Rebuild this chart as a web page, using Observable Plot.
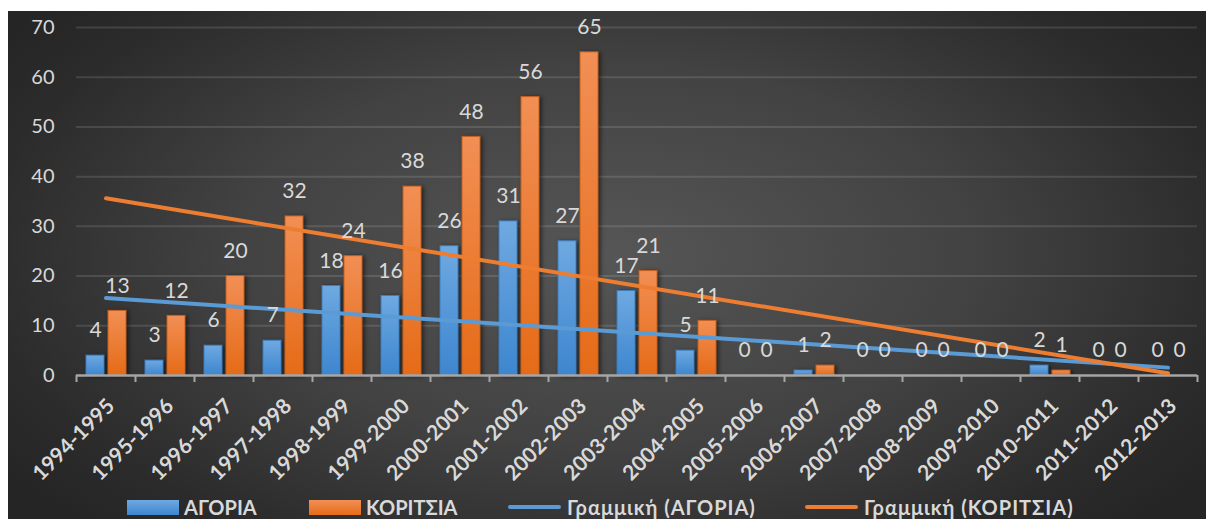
<!DOCTYPE html>
<html>
<head>
<meta charset="utf-8">
<script src="https://cdn.jsdelivr.net/npm/d3@7"></script>
<script src="https://cdn.jsdelivr.net/npm/@observablehq/plot@0.6"></script>
<style>
  html, body { margin: 0; padding: 0; background: #ffffff; }
  body { width: 1206px; height: 519px; position: relative; overflow: hidden; font-family: Lato, "Open Sans", "Noto Sans", sans-serif; }
  #panel {
    position: absolute; left: 8px; top: 11px; width: 1198px; height: 508px;
    background: radial-gradient(ellipse 62% 75% at 50% 48%, #565656 0%, #424242 50%, #2b2b2b 85%, #252525 100%);
  }
  #chart { position: absolute; left: 0; top: 0; }
  #legend { position: absolute; left: 0; top: 482px; width: 1198px; height: 28px; color: #d9d9d9; font-weight: bold; font-size: 20px; }
  .item { position: absolute; top: 0; height: 28px; display: flex; align-items: center; white-space: nowrap; }
  .sw { width: 52px; height: 15px; margin-right: 5px; }
  .ln { width: 53px; height: 4px; border-radius: 2px; margin-right: 6px; }
</style>
</head>
<body>
<div id="panel">
  <div id="chart"></div>
  <div id="legend"></div>
</div>
<script>
// ---- data ----
const categories = ["1994-1995","1995-1996","1996-1997","1997-1998","1998-1999","1999-2000","2000-2001","2001-2002","2002-2003","2003-2004","2004-2005","2005-2006","2006-2007","2007-2008","2008-2009","2009-2010","2010-2011","2011-2012","2012-2013"];
const boys  = [4, 3, 6, 7, 18, 16, 26, 31, 27, 17, 5, 0, 1, 0, 0, 0, 2, 0, 0];
const girls = [13, 12, 20, 32, 24, 38, 48, 56, 65, 21, 11, 0, 2, 0, 0, 0, 1, 0, 0];
const seriesNames = ["ΑΓΟΡΙΑ", "ΚΟΡΙΤΣΙΑ"];
const trendNames = ["Γραμμική (ΑΓΟΡΙΑ)", "Γραμμική (ΚΟΡΙΤΣΙΑ)"];
const yTicks = [0, 10, 20, 30, 40, 50, 60, 70];

// ---- derived ----
const blueC = "#5b9bd5", orangeC = "#ed7d31";
const boysData = categories.map((c, i) => ({cat: c, v: boys[i]}));
const girlsData = categories.map((c, i) => ({cat: c, v: girls[i]}));

// least-squares linear trend (as Excel "Linear" trendline)
function trend(vals) {
  const n = vals.length;
  const xs = vals.map((_, i) => i + 1);
  const mx = d3.mean(xs), my = d3.mean(vals);
  const sxy = d3.sum(xs, (x, i) => (x - mx) * (vals[i] - my));
  const sxx = d3.sum(xs, x => (x - mx) ** 2);
  const b = sxy / sxx, a = my - b * mx;
  return [{cat: categories[0], v: a + b * 1}, {cat: categories[n - 1], v: a + b * n}];
}
const boysTrend = trend(boys);
const girlsTrend = trend(girls);

const W = 1198, H = 475, mL = 68, mR = 9, mT = 16, mB = 111;
const bw = (W - mL - mR) / categories.length;
const axisGray = "#a6a6a6";
const txt = "#d9d9d9";

const plot = Plot.plot({
  width: W, height: H,
  marginLeft: mL, marginRight: mR, marginTop: mT, marginBottom: mB,
  style: {background: "transparent", fontFamily: 'Lato, "Open Sans", "Noto Sans", sans-serif', color: txt, overflow: "visible"},
  x: {domain: categories, padding: 0, axis: null},
  y: {domain: [0, 70], axis: null},
  marks: [
    Plot.gridY(yTicks.slice(1), {stroke: "#ffffff", strokeOpacity: 0.12, strokeWidth: 2}),
    Plot.axisY(yTicks, {label: null, tickSize: 0, tickPadding: 22, fontSize: 20, fill: txt}),
    Plot.barY(boysData, {x: "cat", y: "v", insetLeft: 10, insetRight: 31, fill: "url(#gBlue)", stroke: "#3f7fbf", strokeWidth: 1}),
    Plot.barY(girlsData, {x: "cat", y: "v", insetLeft: 32, insetRight: 9, fill: "url(#gOrange)", stroke: "#c8601c", strokeWidth: 1}),
    Plot.ruleY([0], {stroke: axisGray, strokeWidth: 2.5}),
    Plot.ruleX(categories, {x: d => d, dx: -bw / 2, y1: 0, y2: 0, insetBottom: -7, stroke: axisGray, strokeWidth: 2}),
    Plot.ruleX([categories[categories.length - 1]], {x: d => d, dx: bw / 2, y1: 0, y2: 0, insetBottom: -7, stroke: axisGray, strokeWidth: 2}),
    Plot.axisX({label: null, tickSize: 0, tickRotate: -45, tickPadding: 27, dx: 5, fontSize: 21, fontWeight: "bold", fill: txt}),
    Plot.line(boysTrend, {x: "cat", y: "v", stroke: blueC, strokeWidth: 4, strokeLinecap: "round"}),
    Plot.line(girlsTrend, {x: "cat", y: "v", stroke: orangeC, strokeWidth: 4, strokeLinecap: "round"}),
    Plot.text(boysData, {x: "cat", y: "v", text: "v", dx: -10.5, dy: -25, fontSize: 21, fill: txt}),
    Plot.text(girlsData, {x: "cat", y: "v", text: "v", dx: 11.5, dy: -25, fontSize: 21, fill: txt})
  ]
});

plot.insertAdjacentHTML("afterbegin", `
<defs>
  <linearGradient id="gBlue" x1="0" y1="0" x2="0" y2="1">
    <stop offset="0" stop-color="#6fa9e1"/>
    <stop offset="1" stop-color="#3d86cf"/>
  </linearGradient>
  <linearGradient id="gOrange" x1="0" y1="0" x2="0" y2="1">
    <stop offset="0" stop-color="#f28f55"/>
    <stop offset="1" stop-color="#e56b17"/>
  </linearGradient>
</defs>`);
plot.querySelectorAll('g[aria-label="bar"]').forEach(g => g.style.filter = "drop-shadow(2px 1px 2px rgba(0,0,0,0.55))");
document.getElementById("chart").appendChild(plot);

// ---- legend ----
const legend = document.getElementById("legend");
const items = [
  {label: seriesNames[0], cls: "sw", bg: "linear-gradient(#6fa9e1, #3d86cf)", left: 119},
  {label: seriesNames[1], cls: "sw", bg: "linear-gradient(#f28f55, #e56b17)", left: 301},
  {label: trendNames[0], cls: "ln", bg: blueC, left: 500},
  {label: trendNames[1], cls: "ln", bg: orangeC, left: 797}
];
for (const it of items) {
  const d = document.createElement("div");
  d.className = "item";
  d.style.left = it.left + "px";
  const s = document.createElement("span");
  s.className = it.cls;
  s.style.background = it.bg;
  const t = document.createElement("span");
  t.textContent = it.label;
  if (it.cls === "ln") t.style.letterSpacing = "1px";
  d.appendChild(s); d.appendChild(t);
  legend.appendChild(d);
}
</script>
</body>
</html>
